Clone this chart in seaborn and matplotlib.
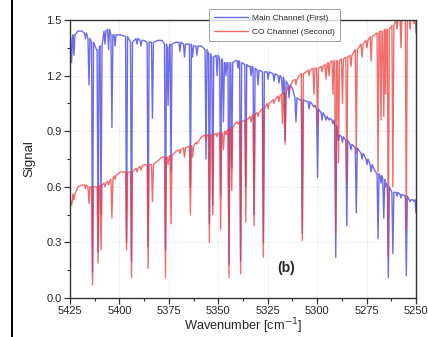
# spektrum, två kanaler (b)
import numpy as np
import pandas as pd
import matplotlib.pyplot as plt
import seaborn as sns
from matplotlib.lines import Line2D
from matplotlib.ticker import MultipleLocator

# absorptionslinjer: position, kontinuum och minimum för varje kanal
line_wn = [5425.5, 5424.2, 5423.0, 5421.0, 5419.0, 5417.2, 5415.4, 5413.6, 5411.6, 5410.8,
           5409.3, 5407.3, 5405.5, 5403.8, 5402.2, 5399.5, 5396.4, 5393.9, 5391.1, 5389.1,
           5387.5, 5385.5, 5383.3, 5380.5, 5378.5, 5376.7, 5375.4, 5373.9, 5371.5, 5369.4,
           5367.1, 5364.1, 5363.0, 5360.8, 5358.5, 5356.2, 5354.5, 5352.8, 5350.6, 5348.8,
           5347.4, 5346.1, 5344.6, 5343.2, 5341.5, 5340.0, 5338.7, 5336.1, 5334.8, 5333.4,
           5331.9, 5329.9, 5327.2, 5324.8, 5321.8, 5319.3, 5317.5, 5316.2, 5314.2, 5312.5,
           5310.7, 5309.0, 5307.5, 5305.5, 5304.1, 5301.6, 5299.8, 5297.5, 5295.5, 5294.0,
           5292.0, 5290.6, 5289.2, 5287.2, 5285.0, 5282.9, 5280.2, 5277.3, 5274.8, 5272.7,
           5271.0, 5269.2, 5267.7, 5266.3, 5265.4, 5264.0, 5261.7, 5259.6, 5257.6, 5254.9,
           5253.0, 5251.0, 5250.0]
main_top = [1.40, 1.41, 1.42, 1.44, 1.44, 1.43, 1.40, 1.38, 1.34, 1.34,
            1.36, 1.44, 1.45, 1.42, 1.42, 1.42, 1.41, 1.38, 1.40, 1.39,
            1.39, 1.38, 1.38, 1.39, 1.39, 1.37, 1.35, 1.37, 1.38, 1.38,
            1.37, 1.37, 1.36, 1.36, 1.36, 1.34, 1.32, 1.30, 1.31, 1.29,
            1.27, 1.27, 1.27, 1.27, 1.28, 1.28, 1.27, 1.26, 1.25, 1.25,
            1.24, 1.23, 1.22, 1.22, 1.21, 1.20, 1.19, 1.17, 1.15, 1.13,
            1.08, 1.07, 1.07, 1.06, 1.06, 1.04, 1.02, 1.00, 0.98, 0.97,
            0.96, 0.93, 0.88, 0.87, 0.85, 0.83, 0.81, 0.78, 0.75, 0.72,
            0.69, 0.67, 0.66, 0.64, 0.62, 0.60, 0.57, 0.57, 0.56, 0.55,
            0.53, 0.53, 0.46]
main_min = [1.40, 1.27, 1.31, 1.44, 1.44, 1.40, 1.15, 0.14, 1.34, 0.25,
            0.45, 1.37, 1.34, 0.92, 1.36, 1.42, 0.30, 0.20, 1.37, 1.36,
            1.39, 0.28, 0.97, 1.39, 1.39, 0.26, 1.04, 0.68, 1.38, 1.33,
            1.30, 0.60, 1.30, 1.31, 1.36, 0.75, 0.40, 0.50, 1.20, 0.55,
            0.95, 1.20, 0.18, 0.70, 1.28, 1.24, 0.20, 0.60, 1.25, 1.20,
            0.45, 1.15, 0.30, 1.18, 1.17, 1.16, 1.10, 0.85, 1.08, 1.13,
            0.95, 1.07, 0.35, 1.06, 1.02, 1.03, 0.65, 0.96, 0.96, 0.96,
            0.94, 0.22, 0.85, 0.84, 0.39, 0.80, 0.46, 0.75, 0.72, 0.68,
            0.69, 0.32, 0.62, 0.43, 0.60, 0.11, 0.24, 0.55, 0.54, 0.12,
            0.52, 0.52, 0.46]
co_top = [0.52, 0.53, 0.56, 0.60, 0.61, 0.61, 0.60, 0.60, 0.60, 0.60,
          0.61, 0.62, 0.63, 0.64, 0.66, 0.68, 0.68, 0.68, 0.70, 0.71,
          0.72, 0.72, 0.72, 0.74, 0.76, 0.76, 0.76, 0.77, 0.79, 0.80,
          0.81, 0.82, 0.82, 0.84, 0.87, 0.88, 0.88, 0.88, 0.89, 0.89,
          0.89, 0.90, 0.91, 0.92, 0.94, 0.95, 0.95, 0.96, 0.97, 0.98,
          0.99, 1.00, 1.02, 1.05, 1.07, 1.09, 1.10, 1.11, 1.14, 1.17,
          1.18, 1.20, 1.21, 1.22, 1.23, 1.24, 1.24, 1.25, 1.26, 1.27,
          1.28, 1.28, 1.28, 1.29, 1.30, 1.31, 1.34, 1.37, 1.39, 1.41,
          1.42, 1.43, 1.44, 1.44, 1.45, 1.45, 1.47, 1.50, 1.53, 1.53,
          1.53, 1.53, 1.43]
co_min = [0.52, 0.50, 0.53, 0.60, 0.61, 0.59, 0.51, 0.07, 0.60, 0.19,
          0.26, 0.60, 0.61, 0.43, 0.64, 0.68, 0.26, 0.11, 0.68, 0.69,
          0.72, 0.16, 0.52, 0.74, 0.76, 0.11, 0.72, 0.40, 0.79, 0.78,
          0.76, 0.45, 0.76, 0.83, 0.87, 0.85, 0.30, 0.45, 0.87, 0.37,
          0.80, 0.88, 0.11, 0.58, 0.94, 0.94, 0.13, 0.41, 0.97, 0.95,
          0.39, 0.98, 0.22, 1.02, 1.05, 1.06, 0.94, 0.83, 1.12, 1.17,
          1.15, 1.20, 0.31, 1.22, 1.20, 1.10, 0.93, 1.22, 1.18, 1.20,
          1.10, 0.35, 0.73, 1.05, 0.63, 1.25, 0.78, 1.30, 1.35, 1.28,
          1.42, 0.68, 0.96, 0.98, 1.10, 0.22, 0.60, 1.45, 1.35, 0.37,
          1.45, 1.48, 1.43]

# bygg linjeprofiler (tre punkter per linje)
W = 0.5
xs, ms, cs = [], [], []
for c, mt, mm, ct, cm in zip(line_wn, main_top, main_min, co_top, co_min):
    if mm < mt or cm < ct:
        xs += [c + W, c, c - W]
        ms += [mt, mm, mt]
        cs += [ct, cm, ct]
    else:
        xs.append(c)
        ms.append(mt)
        cs.append(ct)

df = pd.DataFrame({'wn': xs, 'main': ms, 'co': cs})

sns.set_style('ticks')
plt.rcParams['font.family'] = ['Liberation Sans', 'DejaVu Sans']

fig = plt.figure(figsize=(4.28, 3.37), dpi=100)
ax = fig.add_axes([70/428, 1 - 298/337, 346/428, 278/337])

sns.lineplot(data=df, x='wn', y='main', color='#3a3ae6', lw=1.0, alpha=0.75,
             estimator=None, sort=False, label='Main Channel (First)', ax=ax)
sns.lineplot(data=df, x='wn', y='co', color='#ee3b3b', lw=1.0, alpha=0.75,
             estimator=None, sort=False, label='CO Channel (Second)', ax=ax)

ax.set_xlim(5425, 5250)
ax.set_ylim(0, 1.5)
ax.set_xticks(np.arange(5425, 5249, -25))
ax.set_yticks(np.arange(0, 1.51, 0.3))
ax.xaxis.set_minor_locator(MultipleLocator(12.5))
ax.yaxis.set_minor_locator(MultipleLocator(0.15))
ax.tick_params(which='major', length=4, width=0.9, labelsize=8, color='#333333', pad=2)
ax.tick_params(which='minor', length=2.5, width=0.8, color='#333333')
ax.grid(True, color='#f0f0f0', lw=0.6)
for s in ax.spines.values():
    s.set_color('#333333')
    s.set_linewidth(1.0)

ax.set_xlabel('Wavenumber [cm$^{-1}$]', fontsize=9.2, labelpad=0)
ax.set_ylabel('Signal', fontsize=9.5, labelpad=8)
ax.text(5315.7, 0.16, '(b)', fontsize=10, fontweight='bold', ha='center', va='center')

leg = ax.legend(loc='upper left', bbox_to_anchor=(205/428, 1 - 5/337),
                bbox_transform=fig.transFigure, fontsize=6.0, frameon=True,
                fancybox=False, edgecolor='#888888', handlelength=4.0,
                borderpad=0.6, labelspacing=0.75, handletextpad=0.6)
leg.get_frame().set_linewidth(0.7)

# kant från panel (a)
fig.add_artist(Line2D([11.5/428, 11.5/428], [0, 1], color='black', lw=1.4))

plt.savefig('out.png', dpi=100)
